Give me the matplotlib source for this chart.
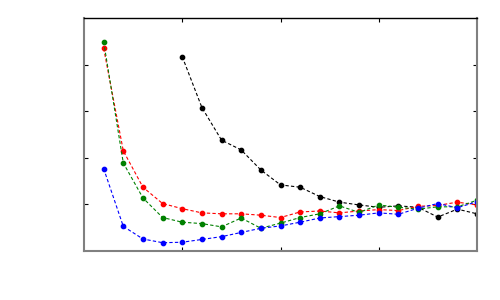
import matplotlib
matplotlib.use('Agg')
import matplotlib.pyplot as plt

x = list(range(1, 21))
red = [4.35, 2.15, 1.37, 1.02, 0.91, 0.82, 0.80, 0.80, 0.77, 0.72,
       0.84, 0.86, 0.82, 0.86, 0.89, 0.87, 0.96, 0.98, 1.05, 0.99]
green = [4.49, 1.89, 1.14, 0.72, 0.62, 0.59, 0.52, 0.71, 0.49, 0.60,
         0.72, 0.80, 0.97, 0.83, 0.99, 0.94, 0.90, 0.95, 0.95, 1.09]
blue = [1.77, 0.53, 0.26, 0.18, 0.19, 0.25, 0.31, 0.40, 0.49, 0.54,
        0.62, 0.71, 0.74, 0.77, 0.82, 0.79, 0.92, 1.02, 0.93, 1.06]
black_x = list(range(5, 21))
black = [4.17, 3.08, 2.38, 2.17, 1.74, 1.42, 1.37, 1.17, 1.05, 0.99,
         0.94, 0.97, 0.94, 0.73, 0.90, 0.80]

fig = plt.figure(figsize=(5, 3), dpi=100)
ax = fig.add_axes([0.168, 0.163, 0.786, 0.777])

for ys, c in [(black, 'black'), (red, 'red'), (green, 'green'), (blue, 'blue')]:
    xs = black_x if c == 'black' else x
    ax.plot(xs, ys, color=c, linestyle='--', linewidth=0.8, marker='o',
            markersize=3.1, dashes=(3, 2))

ax.set_xlim(0, 20)
ax.set_ylim(0, 5)
ax.set_xticks([5, 10, 15])
ax.set_yticks([1, 2, 3, 4])
ax.tick_params(direction='in', length=3, top=True, right=True,
               labelbottom=False, labelleft=False, width=0.8)
for s in ['left', 'right', 'bottom']:
    ax.spines[s].set_color('#808080')
    ax.spines[s].set_linewidth(1.5)
ax.spines['top'].set_color('black')
ax.spines['top'].set_linewidth(1.0)

fig.savefig('out.png', dpi=100)
